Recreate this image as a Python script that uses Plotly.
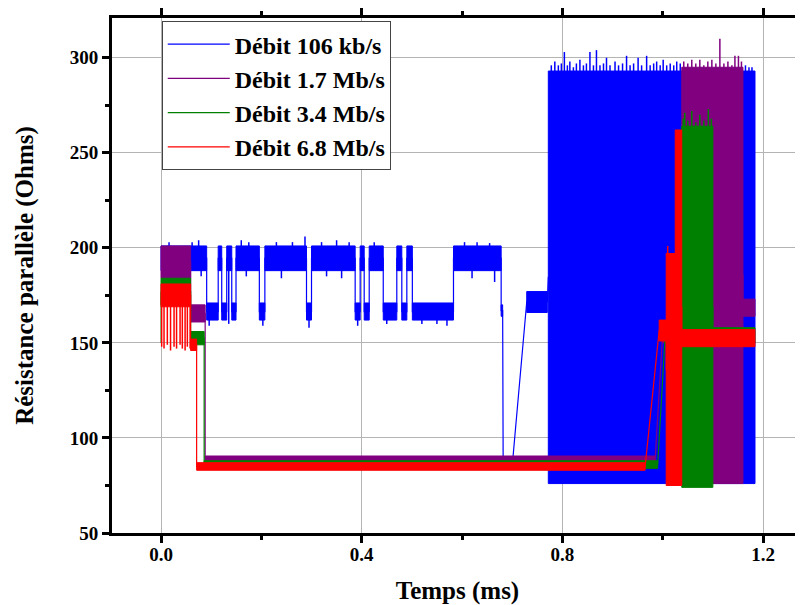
import plotly.graph_objects as go

# ---------------- data ----------------
# Each series is described as successive noisy plateaus: start time, end time,
# lower and upper envelope of the noise band (Ohms). Time in ms.
names = ["Débit 106 kb/s", "Débit 1.7 Mb/s", "Débit 3.4 Mb/s", "Débit 6.8 Mb/s"]
colors = ["#0000FF", "#800080", "#008000", "#FF0000"]

blue_t0 = [0.000, 0.091, 0.114, 0.121, 0.131, 0.141, 0.1495, 0.196, 0.207, 0.290, 0.300,
           0.387, 0.397, 0.405, 0.415, 0.443, 0.470, 0.480, 0.490, 0.501, 0.583, 0.678,
           0.682, 0.729, 0.772]
blue_t1 = [0.091, 0.114, 0.121, 0.131, 0.141, 0.1495, 0.196, 0.207, 0.290, 0.300, 0.387,
           0.397, 0.405, 0.415, 0.443, 0.470, 0.480, 0.490, 0.501, 0.583, 0.678, 0.681,
           0.701, 0.770, 1.184]
blue_lo = [188, 162, 188, 162, 188, 162, 188, 162, 188, 162, 188,
           162, 188, 162, 188, 162, 188, 162, 188, 162, 188, 164,
           86, 166, 76]
blue_hi = [201, 171, 201, 171, 201, 171, 201, 171, 201, 171, 201,
           171, 201, 171, 201, 171, 201, 171, 201, 171, 201, 170,
           90, 177, 293]

purple_t0 = [0.000, 0.059, 0.088, 1.000, 1.038, 1.160]
purple_t1 = [0.059, 0.088, 0.985, 1.038, 1.160, 1.184]
purple_lo = [184, 161, 86.5, 150, 76, 164]
purple_hi = [201, 170, 90.5, 160, 295, 173]

green_t0 = [0.000, 0.059, 0.086, 1.005, 1.038, 1.100]
green_t1 = [0.059, 0.086, 0.990, 1.038, 1.100, 1.184]
green_lo = [170, 149, 84, 150, 74, 150]
green_hi = [184, 156, 88, 158, 264, 158]

red_t0 = [0.000, 0.059, 0.071, 0.993, 1.007, 1.025, 1.038]
red_t1 = [0.059, 0.071, 0.965, 1.007, 1.025, 1.038, 1.184]
red_lo = [169, 146, 83, 151, 75, 75, 148]
red_hi = [181, 152, 87, 162, 197, 262, 157]

# isolated spikes sticking out of the bands (time, extreme value)
blue_spk_t = [0.016, 0.062, 0.075, 0.080, 0.096, 0.135, 0.160, 0.170, 0.175, 0.203, 0.230,
              0.240, 0.262, 0.287, 0.295, 0.320, 0.330, 0.350, 0.360, 0.375, 0.392, 0.425,
              0.450, 0.520, 0.550, 0.570, 0.605, 0.620, 0.630, 0.655, 0.665,
              0.778, 0.785, 0.792, 0.798, 0.804, 0.810, 0.815, 0.822, 0.828, 0.835, 0.842,
              0.848, 0.855, 0.862, 0.868, 0.875, 0.882, 0.888, 0.895, 0.905, 0.912, 0.920,
              0.928, 0.935, 0.942, 0.951, 0.958, 0.968, 0.975, 0.982, 0.988, 0.995, 1.001,
              1.008, 1.015, 1.022, 1.028, 1.035, 1.165, 1.172, 1.178]
blue_spk_y = [203, 203, 204, 185, 159, 160, 204, 185, 203, 159, 203,
              184, 203, 206, 158, 203, 185, 204, 184, 203, 159, 203,
              160, 160, 160, 159, 203, 184, 203, 202.5, 182,
              296, 298, 296, 297, 303, 296, 298, 295, 297, 299, 296,
              297, 303, 296, 304, 296, 297, 300, 296, 298, 296, 297,
              301, 296, 297, 300, 296, 301, 296, 297, 298, 296, 299,
              296, 297, 296, 298, 297, 296, 295, 295]
purple_spk_t = [1.042, 1.050, 1.058, 1.066, 1.074, 1.082, 1.090, 1.098, 1.106, 1.114,
                1.122, 1.130, 1.138, 1.144, 1.151, 1.157]
purple_spk_y = [298, 297, 299, 297, 299, 296, 298, 299, 297, 310,
                297, 298, 296, 301, 301, 298]
green_spk_t = [0.0005, 1.041, 1.044, 1.050, 1.058, 1.066, 1.074, 1.082, 1.091, 1.097]
green_spk_y = [150, 268, 271, 267, 272, 266, 270, 267, 273, 268]
red_spk_t = [0.0013, 0.006, 0.0126, 0.019, 0.026, 0.031, 0.038, 0.0425, 0.048, 0.0525,
             0.058, 1.010]
red_spk_y = [148, 147, 149, 146, 148, 147, 149, 147, 146, 148, 147, 201]

x_tickvals = [0.0, 0.4, 0.8, 1.2]
x_ticktext = ["0.0", "0.4", "0.8", "1.2"]
x_minor = [0.2, 0.6, 1.0]
y_tickvals = [50, 100, 150, 200, 250, 300]
y_minor = [75, 125, 175, 225, 275]

series = [
    (blue_t0, blue_t1, blue_lo, blue_hi, blue_spk_t, blue_spk_y),
    (purple_t0, purple_t1, purple_lo, purple_hi, purple_spk_t, purple_spk_y),
    (green_t0, green_t1, green_lo, green_hi, green_spk_t, green_spk_y),
    (red_t0, red_t1, red_lo, red_hi, red_spk_t, red_spk_y),
]

FONT = "Liberation Serif, Times New Roman, serif"


def band_xy(t0, t1, lo, hi):
    xs, ys = [], []
    for a, b, l, h in zip(t0, t1, lo, hi):
        xs += [a, b, b, a, a, None]
        ys += [l, l, h, h, l, None]
    return xs, ys


def center_xy(t0, t1, lo, hi):
    xs, ys = [], []
    for a, b, l, h in zip(t0, t1, lo, hi):
        m = (l + h) / 2
        xs += [a, b]
        ys += [m, m]
    return xs, ys


def spike_xy(st, sy, t0, t1, lo, hi):
    xs, ys = [], []
    for t, y in zip(st, sy):
        base = None
        for a, b, l, h in zip(t0, t1, lo, hi):
            if a <= t <= b:
                base = (l + h) / 2
                break
        if base is None:
            continue
        xs += [t, t, None]
        ys += [base, y, None]
    return xs, ys


fig = go.Figure()
for name, col, (t0, t1, lo, hi, st, sy) in zip(names, colors, series):
    bx, by = band_xy(t0, t1, lo, hi)
    fig.add_trace(go.Scatter(x=bx, y=by, mode="lines", fill="toself", fillcolor=col,
                             line=dict(color=col, width=1), showlegend=False,
                             legendgroup=name, hoverinfo="skip"))
    cx, cy = center_xy(t0, t1, lo, hi)
    fig.add_trace(go.Scatter(x=cx, y=cy, mode="lines", name=name,
                             line=dict(color=col, width=1.2), legendgroup=name))
    sx, syy = spike_xy(st, sy, t0, t1, lo, hi)
    fig.add_trace(go.Scatter(x=sx, y=syy, mode="lines", line=dict(color=col, width=1.5),
                             showlegend=False, legendgroup=name, hoverinfo="skip"))

axis_common = dict(
    showline=True, linewidth=3, linecolor="black",
    ticks="outside", ticklen=7, tickwidth=3, tickcolor="black",
    showgrid=True, gridcolor="#b4b4b4", gridwidth=1, zeroline=False,
    tickfont=dict(family=FONT, size=19, color="black", weight="bold"),
)

fig.update_xaxes(
    range=[-0.0977, 1.2797], tickmode="array", tickvals=x_tickvals, ticktext=x_ticktext,
    mirror="ticks", ticklabelstandoff=-5,
    minor=dict(tickmode="array", tickvals=x_minor, ticks="outside", ticklen=4,
               tickwidth=3, tickcolor="black", showgrid=False),
    title=dict(text="Temps (ms)", font=dict(family=FONT, size=25, color="black", weight="bold"),
               standoff=23),
    **axis_common,
)
fig.update_yaxes(
    range=[50, 320.9], tickmode="array", tickvals=y_tickvals,
    mirror=False, ticklabelstandoff=0,
    minor=dict(tickmode="array", tickvals=y_minor, ticks="outside", ticklen=4,
               tickwidth=3, tickcolor="black", showgrid=False),
    title=dict(text="Résistance parallèle (Ohms)",
               font=dict(family=FONT, size=25, color="black", weight="bold"), standoff=29),
    **axis_common,
)

# the page adds an 8 px body margin, so the figure is 8 px smaller than the window
fig.update_layout(
    width=795, height=597,
    margin=dict(l=104, r=0, t=9, b=70),
    plot_bgcolor="white", paper_bgcolor="white",
    legend=dict(x=0.072, y=0.994, xanchor="left", yanchor="top", bgcolor="white",
                bordercolor="#444444", borderwidth=1, itemwidth=62, tracegroupgap=0,
                font=dict(family=FONT, size=24, color="black", weight="bold")),
)

fig.write_html("out.html")
